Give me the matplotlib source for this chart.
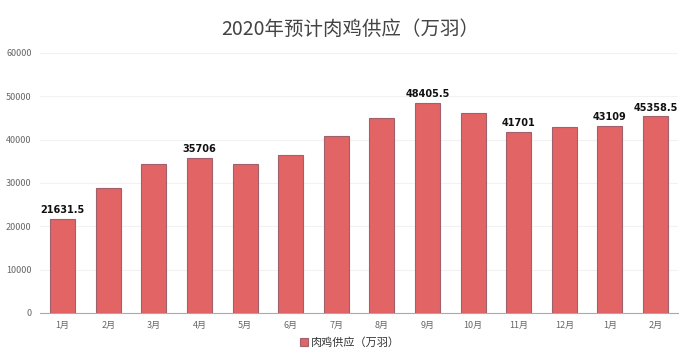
import matplotlib
matplotlib.use("Agg")
import matplotlib.pyplot as plt

plt.rcParams['font.family'] = ['Noto Sans CJK SC', 'DejaVu Sans']

categories = ['1月', '2月', '3月', '4月', '5月', '6月', '7月', '8月', '9月', '10月', '11月', '12月', '1月', '2月']
values = [21631.5, 28800, 34300, 35706, 34400, 36400, 40800, 45000, 48405.5, 46100, 41701, 42900, 43109, 45358.5]
labeled = [0, 3, 8, 10, 12, 13]
label_texts = ['21631.5', '35706', '48405.5', '41701', '43109', '45358.5']
series_name = '肉鸡供应（万羽）'
title = '2020年预计肉鸡供应（万羽）'
yticks = [0, 10000, 20000, 30000, 40000, 50000, 60000]

fig = plt.figure(figsize=(7, 3.63), dpi=100)
ax = fig.add_axes([0.057, 0.138, 0.912, 0.716])

x = list(range(len(categories)))
bars = ax.bar(x, values, width=0.55, color='#E36464', edgecolor='#a0606c', linewidth=0.8,
              label=series_name, zorder=3)
for i, t in zip(labeled, label_texts):
    ax.text(i, values[i] + 900, t, ha='center', va='bottom', fontsize=7,
            fontweight='bold', color='#111111', family=['DejaVu Sans'])

ax.set_ylim(0, 60000)
ax.set_xlim(-0.5, len(categories) - 0.5)
ax.set_yticks(yticks)
ax.set_yticklabels([str(v) for v in yticks], fontsize=6.5, color='#666666')
ax.set_xticks(x)
ax.set_xticklabels(categories, fontsize=6.5, color='#666666')
ax.tick_params(axis='both', length=0, pad=6)
ax.grid(axis='y', color='#f2f2f2', linewidth=0.8, zorder=0)
for s in ['top', 'right', 'left']:
    ax.spines[s].set_visible(False)
ax.spines['bottom'].set_color('#aaaaaa')
ax.spines['bottom'].set_linewidth(0.8)

fig.text(0.5, 0.918, title, ha='center', va='center', fontsize=14, color='#444444')
fig.legend(handles=[bars], labels=[series_name], loc='center', bbox_to_anchor=(0.5, 0.057),
           frameon=False, fontsize=8, handlelength=0.7, handleheight=0.7, handletextpad=0.3,
           labelcolor='#333333')

fig.savefig('out.png', dpi=100)
